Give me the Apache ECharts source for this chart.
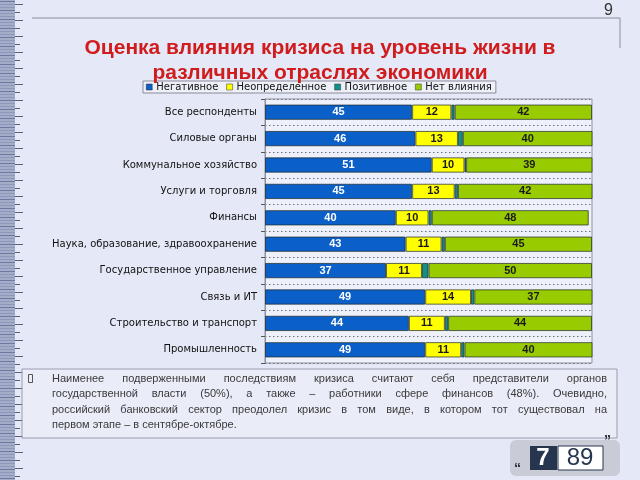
<!DOCTYPE html>
<html><head><meta charset="utf-8">
<script src="https://cdn.jsdelivr.net/npm/echarts@6/dist/echarts.min.js"></script>
<style>html,body{margin:0;padding:0;background:#e5e9f7;}#c{width:640px;height:480px;}</style>
</head><body><div id="c"></div>
<script>
const categories = ["Все респонденты","Силовые органы","Коммунальное хозяйство","Услуги и торговля","Финансы","Наука, образование, здравоохранение","Государственное управление","Связь и ИТ","Строительство и транспорт","Промышленность"];
const negative  = [45,46,51,45,40,43,37,49,44,49];
const uncertain = [12,13,10,13,10,11,11,14,11,11];
const positive  = [1,1.5,0.5,1,1,1,2,1,1,1];
const noEffect  = [42,40,39,42,48,45,50,37,44,40];
const seriesNames = ["Негативное","Неопределенное","Позитивное","Нет влияния"];
const colors = ["#0b5fc9","#ffff00","#138f8c","#99cc00"];
const titleText = "Оценка влияния кризиса на уровень жизни в\nразличных отраслях экономики";
const noteLines = [
 "Наименее подверженными последствиям кризиса считают себя представители органов",
 "государственной власти (50%), а также – работники сфере финансов (48%). Очевидно,",
 "российский банковский сектор преодолел кризис в том виде, в котором тот существовал на",
 "первом этапе – в сентябре-октябре."
];

const chart = echarts.init(document.getElementById('c'), null, {renderer:'canvas'});
const values = [negative, uncertain, positive, noEffect];

const mc = document.createElement('canvas').getContext('2d');
const noteFont = '11px "Liberation Sans", Arial, sans-serif';
mc.font = noteFont;
const graphics = [];

// left ruler decoration
graphics.push({type:'rect', shape:{x:0,y:0,width:15,height:480}, style:{fill:'#a4acc8'}, silent:true});
for (let y=1; y<480; y+=3) {
  graphics.push({type:'rect', shape:{x:0,y:y,width:15,height:1}, style:{fill: (y%9===1)?'#6e7aa2':'#8e98bb'}, silent:true});
}
for (let y=4, i=0; y<480; y+=8, i++) {
  graphics.push({type:'rect', shape:{x:15,y:y,width:(i%2===0)?8:5,height:1}, style:{fill:'#56607f'}, silent:true});
}
// top rule and page number
graphics.push({type:'line', shape:{x1:32,y1:18,x2:620,y2:18}, style:{stroke:'#8a8e9e',lineWidth:1}, silent:true});
graphics.push({type:'line', shape:{x1:620,y1:18,x2:620,y2:48}, style:{stroke:'#8a8e9e',lineWidth:1}, silent:true});
graphics.push({type:'text', x:613, y:3, style:{text:'9', font:'16px "Liberation Sans", Arial, sans-serif', fill:'#333', align:'right'}});

// note box
graphics.push({type:'rect', shape:{x:22,y:369,width:595,height:69}, style:{fill:'rgba(236,239,249,0.6)', stroke:'#9a9cae', lineWidth:1}, silent:true});
graphics.push({type:'rect', shape:{x:28.5,y:374.5,width:4,height:8}, style:{fill:'none', stroke:'#555', lineWidth:1}, silent:true});
const nx0 = 52, nx1 = 607, ny0 = 373, nlh = 15.5;
noteLines.forEach((line, li) => {
  const y = ny0 + li*nlh;
  if (li === noteLines.length-1) {
    graphics.push({type:'text', x:nx0, y:y, style:{text:line, font:noteFont, fill:'#3a3a3a'}});
    return;
  }
  const words = line.split(' ');
  const ws = words.map(w => mc.measureText(w).width);
  const total = ws.reduce((a,b)=>a+b,0);
  const gap = (nx1 - nx0 - total) / (words.length - 1);
  let x = nx0;
  words.forEach((w, wi) => {
    graphics.push({type:'text', x:x, y:y, style:{text:w, font:noteFont, fill:'#3a3a3a'}});
    x += ws[wi] + gap;
  });
});

// logo
graphics.push({type:'rect', shape:{x:510,y:440,width:110,height:36,r:6}, style:{fill:'#c9ccd6'}, silent:true});
graphics.push({type:'rect', shape:{x:530,y:446,width:27,height:24}, style:{fill:'#27364f'}, silent:true});
graphics.push({type:'text', x:543, y:446, style:{text:'7', font:'bold 24px "Liberation Sans", Arial, sans-serif', fill:'#ffffff', align:'center'}});
graphics.push({type:'rect', shape:{x:558,y:446,width:45,height:24}, style:{fill:'#ffffff', stroke:'#27364f', lineWidth:1}, silent:true});
graphics.push({type:'text', x:580, y:446, style:{text:'89', font:'24px "Liberation Sans", Arial, sans-serif', fill:'#27364f', align:'center'}});
graphics.push({type:'text', x:604, y:434, style:{text:'”', font:'bold 14px "Liberation Sans", Arial, sans-serif', fill:'#333'}});
graphics.push({type:'text', x:514, y:462, style:{text:'“', font:'bold 14px "Liberation Sans", Arial, sans-serif', fill:'#333'}});

const series = seriesNames.map((name, i) => ({
  name: name,
  type: 'bar',
  stack: 'total',
  data: values[i],
  barWidth: '58%',
  itemStyle: {color: colors[i], borderColor: 'rgba(30,40,40,0.7)', borderWidth: 1},
  label: {
    show: i !== 2,
    position: 'inside',
    fontSize: 11,
    fontWeight: 'bold',
    fontFamily: 'Liberation Sans, Arial, sans-serif',
    color: i === 0 ? '#ffffff' : '#1a1a1a',
    textBorderWidth: 0
  },
  emphasis: {disabled: true}
}));

chart.setOption({
  animation: false,
  backgroundColor: '#e5e9f7',
  title: {
    text: titleText,
    left: 'center',
    top: 31,
    textStyle: {fontSize: 21, fontWeight: 'bold', color: '#d01c1c', fontFamily: 'Liberation Sans, Arial, sans-serif', lineHeight: 25}
  },
  legend: {
    data: seriesNames,
    left: 143,
    top: 81,
    orient: 'horizontal',
    itemWidth: 6,
    itemHeight: 6,
    itemGap: 8,
    padding: [1, 4, 1, 3],
    backgroundColor: '#eef0f8',
    borderColor: '#8a8a9a',
    borderWidth: 1,
    borderRadius: 0,
    icon: 'rect',
    itemStyle: {borderColor: '#333', borderWidth: 0.5},
    textStyle: {fontSize: 10, color: '#111', fontFamily: 'DejaVu Sans, sans-serif', padding: [0,0,0,-1]}
  },
  grid: {
    left: 265, right: 48, top: 99, bottom: 117,
    show: true,
    backgroundColor: '#eef1fa',
    borderColor: '#8f939f',
    borderWidth: 1
  },
  xAxis: {
    type: 'value', min: 0, max: 100, show: false
  },
  yAxis: {
    type: 'category',
    data: categories,
    inverse: true,
    axisLine: {show: true, lineStyle: {color: '#8f939f'}},
    axisTick: {show: true, length: 4, lineStyle: {color: '#555'}},
    splitLine: {show: true, lineStyle: {color: '#6a6e80', type: [1.5, 2.5], width: 1}},
    axisLabel: {fontSize: 10, color: '#111', margin: 8, fontFamily: 'DejaVu Sans, sans-serif'}
  },
  series: series,
  graphic: graphics
});
</script>
</body></html>
